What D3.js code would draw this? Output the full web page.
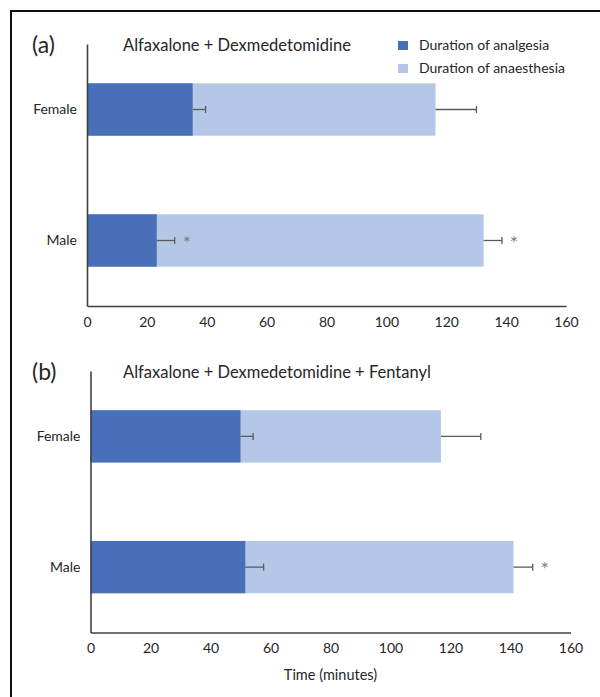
<!DOCTYPE html>
<html>
<head>
<meta charset="utf-8">
<script src="https://cdn.jsdelivr.net/npm/d3@7/dist/d3.min.js"></script>
<style>
  html, body { margin: 0; padding: 0; background: #fff; }
  svg { display: block; }
  text { font-family: Lato, "Open Sans", sans-serif; fill: #262626; }
</style>
</head>
<body>
<svg id="chart" width="600" height="697"></svg>
<script>
// Categories and tick labels
const sexes = ["Female", "Male"];
const xTicks = [0, 20, 40, 60, 80, 100, 120, 140, 160];
const seriesNames = ["Duration of analgesia", "Duration of anaesthesia"];

// (a) Alfaxalone + Dexmedetomidine — minutes (mean) and error (SD)
const analgesiaA = [35.3, 23.3];
const analgesiaErrA = [4.3, 6.0];
const anaesthesiaA = [116.4, 132.5];
const anaesthesiaErrA = [13.7, 6.1];
const analgesiaStarA = [false, true];
const anaesthesiaStarA = [false, true];

// (b) Alfaxalone + Dexmedetomidine + Fentanyl
const analgesiaB = [50.0, 51.6];
const analgesiaErrB = [4.2, 6.1];
const anaesthesiaB = [116.8, 141.0];
const anaesthesiaErrB = [13.3, 6.4];
const analgesiaStarB = [false, false];
const anaesthesiaStarB = [false, true];

const colors = ["#4770B8", "#B4C7E6"];
const errColor = "#5a5a5a";

const svg = d3.select("#chart");

// outer frame
svg.append("rect")
  .attr("x", 11).attr("y", 11)
  .attr("width", 620).attr("height", 720)
  .attr("fill", "none").attr("stroke", "#111").attr("stroke-width", 2);

function panel(opt) {
  const g = svg.append("g");
  const x = d3.scaleLinear().domain([0, 160]).range([opt.x0, opt.x1]);
  const y = d3.scaleBand().domain(sexes).range([opt.yTop, opt.yBottom])
    .paddingInner(0.6).paddingOuter(0.3);

  // panel letter and title
  g.append("text").attr("x", 32).attr("y", opt.titleY)
    .attr("dy", "0.35em").style("font-size", "23px").text(opt.letter);
  g.append("text").attr("x", 123).attr("y", opt.titleY)
    .attr("dy", "0.35em").style("font-size", "16.5px").text(opt.title);

  const rows = sexes.map((s, i) => ({
    sex: s,
    an: opt.analgesia[i], anErr: opt.analgesiaErr[i], anStar: opt.analgesiaStar[i],
    ae: opt.anaesthesia[i], aeErr: opt.anaesthesiaErr[i], aeStar: opt.anaesthesiaStar[i]
  }));

  // anaesthesia bars (behind), analgesia bars on top
  g.selectAll(".ae").data(rows).join("rect")
    .attr("x", x(0)).attr("y", d => y(d.sex))
    .attr("width", d => x(d.ae) - x(0)).attr("height", y.bandwidth())
    .attr("fill", colors[1]);
  g.selectAll(".an").data(rows).join("rect")
    .attr("x", x(0)).attr("y", d => y(d.sex))
    .attr("width", d => x(d.an) - x(0)).attr("height", y.bandwidth())
    .attr("fill", colors[0]);

  // error bars
  const errs = [];
  rows.forEach(d => {
    errs.push({ sex: d.sex, v: d.an, e: d.anErr, star: d.anStar });
    errs.push({ sex: d.sex, v: d.ae, e: d.aeErr, star: d.aeStar });
  });
  const cy = d => y(d.sex) + y.bandwidth() / 2;
  const eg = g.append("g").attr("stroke", errColor).attr("stroke-width", 1.3);
  eg.selectAll(".eline").data(errs).join("line")
    .attr("x1", d => x(d.v)).attr("x2", d => x(d.v + d.e))
    .attr("y1", cy).attr("y2", cy);
  eg.selectAll(".ecap").data(errs).join("line")
    .attr("x1", d => x(d.v + d.e)).attr("x2", d => x(d.v + d.e))
    .attr("y1", d => cy(d) - 3.5).attr("y2", d => cy(d) + 3.5);

  // significance markers
  g.selectAll(".star").data(errs.filter(d => d.star)).join("text")
    .attr("x", d => x(d.v + d.e) + 12).attr("y", d => cy(d) + 9)
    .attr("text-anchor", "middle")
    .style("font-size", "20px").style("fill", "#808080").text("*");

  // category labels
  g.selectAll(".cat").data(sexes).join("text")
    .attr("x", x(0) - 10).attr("y", d => y(d) + y.bandwidth() / 2)
    .attr("dy", "0.35em").attr("text-anchor", "end")
    .style("font-size", "14px").text(d => d);

  // axes
  const xAxis = d3.axisBottom(x).tickValues(xTicks).tickSize(0).tickPadding(11);
  const xa = g.append("g").attr("transform", `translate(0,${opt.yBottom})`).call(xAxis);
  xa.select(".domain").attr("stroke", "#404040").attr("stroke-width", 1.6);
  xa.selectAll("text").style("font-size", "14px").style("font-family", "Lato, sans-serif").attr("fill", "#262626");

  const yAxis = d3.axisLeft(y).tickSize(0).tickFormat("");
  const ya = g.append("g").attr("transform", `translate(${opt.x0},0)`).call(yAxis);
  ya.select(".domain").attr("stroke", "#404040").attr("stroke-width", 1.6);

  return { x, y, g };
}

panel({
  letter: "(a)", title: "Alfaxalone + Dexmedetomidine", titleY: 45,
  x0: 87, x1: 566, yTop: 44, yBottom: 306,
  analgesia: analgesiaA, analgesiaErr: analgesiaErrA, analgesiaStar: analgesiaStarA,
  anaesthesia: anaesthesiaA, anaesthesiaErr: anaesthesiaErrA, anaesthesiaStar: anaesthesiaStarA
});

panel({
  letter: "(b)", title: "Alfaxalone + Dexmedetomidine + Fentanyl", titleY: 372,
  x0: 90.5, x1: 570.5, yTop: 371, yBottom: 632.5,
  analgesia: analgesiaB, analgesiaErr: analgesiaErrB, analgesiaStar: analgesiaStarB,
  anaesthesia: anaesthesiaB, anaesthesiaErr: anaesthesiaErrB, anaesthesiaStar: anaesthesiaStarB
});

// x-axis title
svg.append("text").attr("x", 330.5).attr("y", 675).attr("dy", "0.35em")
  .attr("text-anchor", "middle").style("font-size", "14.5px").text("Time (minutes)");

// legend
const legend = svg.append("g").selectAll("g").data(seriesNames).join("g")
  .attr("transform", (d, i) => `translate(398,${45.5 + i * 23})`);
legend.append("rect").attr("x", 0).attr("y", -4.5).attr("width", 10).attr("height", 9)
  .attr("fill", (d, i) => colors[i]);
legend.append("text").attr("x", 21).attr("y", 0).attr("dy", "0.35em")
  .style("font-size", "14px").text(d => d);
</script>
</body>
</html>
